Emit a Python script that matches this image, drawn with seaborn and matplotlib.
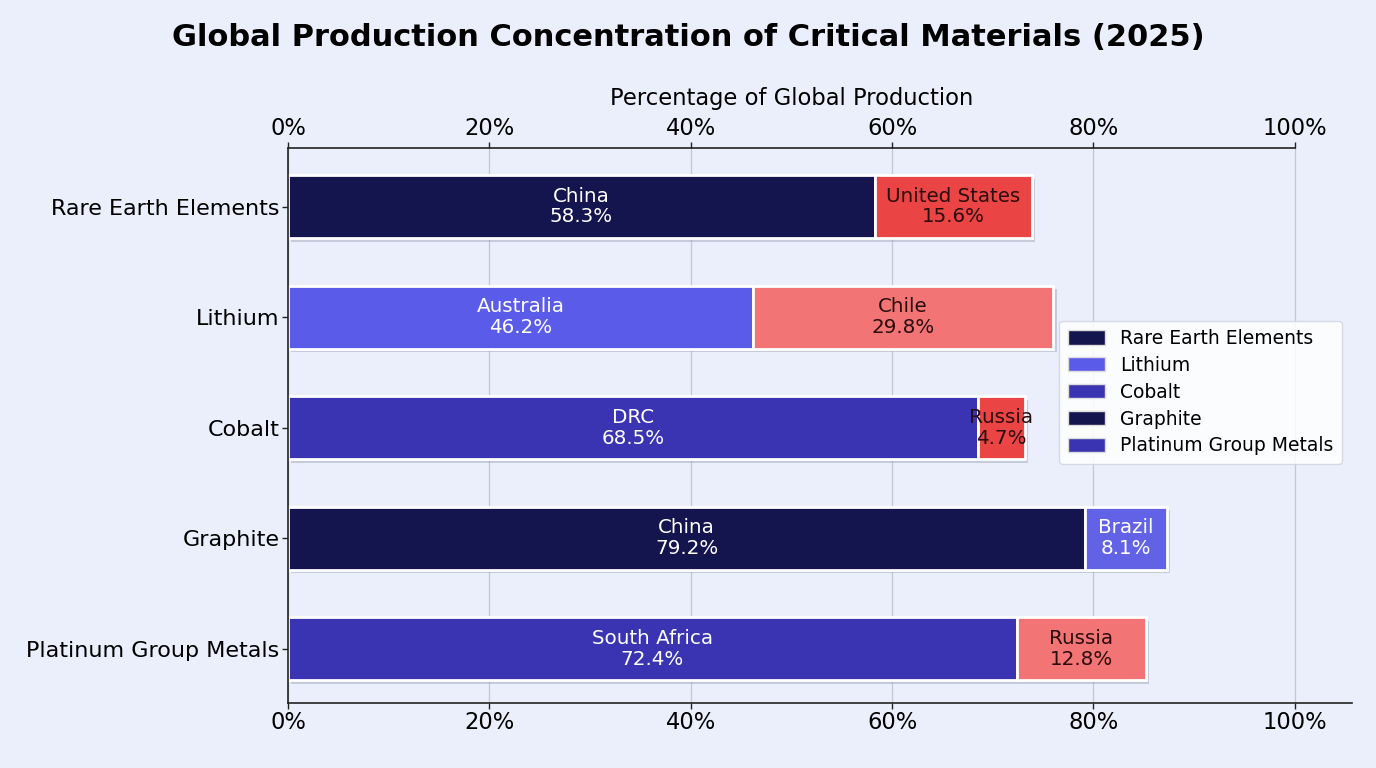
import matplotlib
matplotlib.use("Agg")
import matplotlib.pyplot as plt
import matplotlib.patheffects as pe
from matplotlib.patches import Patch
import pandas as pd
import seaborn as sns

# data
materials = ["Rare Earth Elements", "Lithium", "Cobalt", "Graphite", "Platinum Group Metals"]
top_country = ["China", "Australia", "DRC", "China", "South Africa"]
top_share = [58.3, 46.2, 68.5, 79.2, 72.4]
second_country = ["United States", "Chile", "Russia", "Brazil", "Russia"]
second_share = [15.6, 29.8, 4.7, 8.1, 12.8]
x_ticks = [0, 20, 40, 60, 80, 100]

# colours
top_colors = ["#14144e", "#5b5bea", "#3a34b2", "#14144e", "#3a34b2"]
second_colors = ["#ea4444", "#f27474", "#ea4444", "#6262e6", "#f27474"]
second_text = ["#2a0d0d", "#2a0d0d", "#2a0d0d", "white", "#2a0d0d"]
bg = "#eaeffb"

df = pd.DataFrame({"material": materials, "country": top_country, "share": top_share})

sns.set_theme(style="white")
plt.rcParams["font.family"] = ["DejaVu Sans"]
plt.rcParams["text.color"] = "black"

fig, ax = plt.subplots(figsize=(13.76, 7.68), dpi=100)
fig.patch.set_facecolor(bg)
ax.set_facecolor(bg)
fig.subplots_adjust(left=0.2093, right=0.9826, top=0.8073, bottom=0.0846)

shadow = [pe.SimplePatchShadow(offset=(2.5, -2.5), shadow_rgbFace="#9aa0b4", alpha=0.45), pe.Normal()]

sns.barplot(data=df, y="material", x="share", hue="material",
            palette=dict(zip(materials, top_colors)), order=materials, saturation=1,
            width=0.57, edgecolor="white", linewidth=2, legend=False, ax=ax)
for p in ax.patches:
    p.set_path_effects(shadow)

ax.barh(materials, second_share, left=top_share, height=0.57, color=second_colors,
        edgecolor="white", linewidth=2, path_effects=shadow)

for i in range(len(materials)):
    ax.text(top_share[i] / 2, i, f"{top_country[i]}\n{top_share[i]}%",
            ha="center", va="center", color="white", fontsize=14.3, linespacing=1.12)
    ax.text(top_share[i] + second_share[i] / 2, i, f"{second_country[i]}\n{second_share[i]}%",
            ha="center", va="center", color=second_text[i], fontsize=14.3, linespacing=1.12)

ax.set_xlim(0, 105.7)
ax.set_ylim(4.49, -0.53)
ax.set_xticks(x_ticks)
ax.set_xticklabels([f"{t}%" for t in x_ticks])
ax.tick_params(axis="x", top=True, labeltop=True, bottom=True, labelbottom=True,
               labelsize=16.3, length=4, width=1, color="#222222", pad=2)
ax.tick_params(axis="y", left=True, labelsize=16, length=4, width=1, color="#222222", pad=2)
for lab in ax.get_yticklabels() + ax.get_xticklabels():
    lab.set_color("black")

ax.xaxis.grid(True, color="#c3c7d4", linewidth=0.9)
ax.set_axisbelow(True)

for side in ["top", "bottom", "left"]:
    ax.spines[side].set_color("#222222")
    ax.spines[side].set_linewidth(1.2)
ax.spines["right"].set_visible(False)
ax.spines["top"].set_bounds(0, 100)

ax.set_ylabel("")
ax.xaxis.set_label_position("top")
ax.set_xlabel("Percentage of Global Production", fontsize=16.3, color="black")
ax.xaxis.set_label_coords(50 / 105.7, 1.077)

handles = [Patch(facecolor=c, edgecolor="#dddddd", label=m) for m, c in zip(materials, top_colors)]
leg = ax.legend(handles=handles, loc="center right", bbox_to_anchor=(0.9995, 0.56),
                fontsize=13.5, frameon=True, framealpha=0.85, facecolor="white",
                edgecolor="#d0d4de", handlelength=2.0, handleheight=0.8,
                labelspacing=0.42, borderpad=0.45)
for t in leg.get_texts():
    t.set_color("black")

fig.suptitle("Global Production Concentration of Critical Materials (2025)",
             fontsize=22, fontweight="bold", y=0.951, va="center", color="black")

fig.savefig("out.png", dpi=100, facecolor=bg)
